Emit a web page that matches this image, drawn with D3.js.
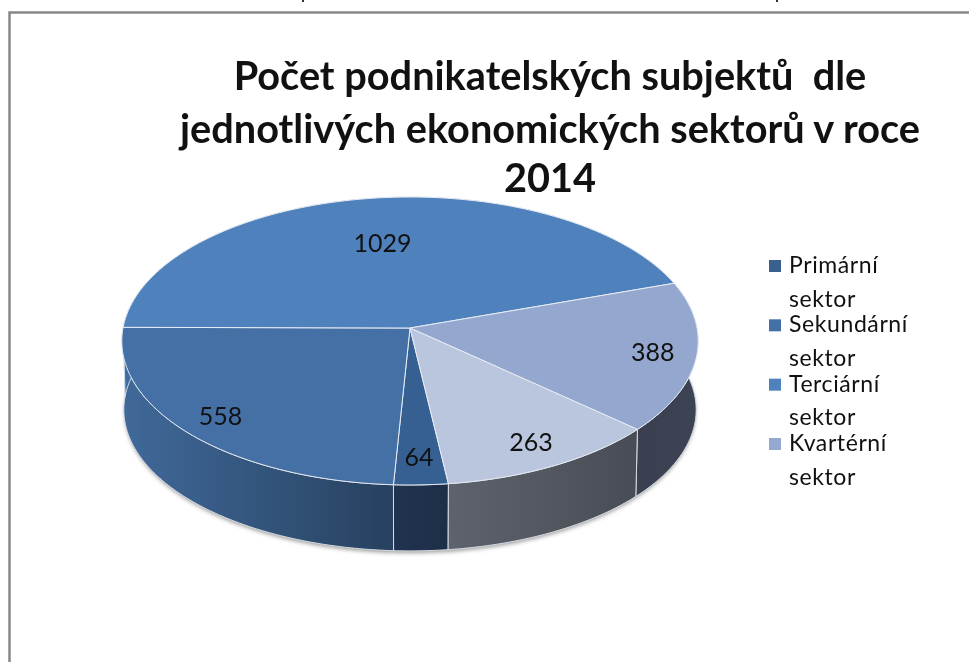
<!DOCTYPE html>
<html>
<head>
<meta charset="utf-8">
<script src="https://cdn.jsdelivr.net/npm/d3@7"></script>
<style>
  html, body { margin: 0; padding: 0; background: #fff; overflow: hidden; }
  text { font-family: Lato, "Open Sans", sans-serif; fill: #111; white-space: pre; }
</style>
</head>
<body>
<div id="my_dataviz"></div>
<script>
// data
var values = [64, 558, 1029, 388, 263];
var legendLabels = [
  ["Primární", "sektor"],
  ["Sekundární", "sektor"],
  ["Terciární", "sektor"],
  ["Kvartérní", "sektor"]
];
var titleLines = [
  "Počet podnikatelských subjektů  dle",
  "jednotlivých ekonomických sektorů v roce",
  "2014"
];

// colours
var topColors = ["#376092", "#4470a6", "#4f81bd", "#93a7cf", "#b9c6dd"];
var legendColors = ["#3a6090", "#4370a5", "#4f81bd", "#95a9d0"];
var sideFrom = ["#203350", "#40699a", "#3d6ea8", "#3a4050", "#5e626c"];
var sideTo = ["#1d2e47", "#27415f", "#3d6ea8", "#3c4354", "#484d55"];

var width = 969, height = 662;

var svg = d3.select("#my_dataviz")
  .append("svg")
    .attr("width", width)
    .attr("height", height)
    .style("display", "block")
    .style("filter", "blur(0.4px)");

var defs = svg.append("defs");
defs.append("filter").attr("id", "shadow")
  .attr("x", "-10%").attr("y", "-10%").attr("width", "120%").attr("height", "120%")
  .append("feGaussianBlur").attr("stdDeviation", 2);

// outer frame, only top and left are inside the page
svg.append("path")
  .attr("d", "M9.5,662V12.5H969")
  .attr("fill", "none")
  .attr("stroke", "#888")
  .attr("stroke-width", 2.5);

// specks of the cropped line above the frame
[303, 777].forEach(function(x) {
  svg.append("rect").attr("x", x - 1).attr("y", 0).attr("width", 2).attr("height", 2).attr("fill", "#333");
});

// title
svg.selectAll(".title")
  .data(titleLines)
  .enter()
  .append("text")
    .attr("class", "title")
    .attr("x", 550)
    .attr("y", function(d, i) { return [90, 143, 192][i]; })
    .attr("text-anchor", "middle")
    .style("font-size", "39.7px")
    .style("font-weight", 700)
    .text(function(d) { return d; });

// tilted disc: the near half is drawn bigger than the far half
var persp = -0.0903;
function project(angle, ring, r) {
  var u = Math.sin(angle) * r, v = -Math.cos(angle) * r;
  var d = 1 + persp * v;
  return [ring.cx + ring.rx * u / d, ring.cy + ring.ry * v / d];
}
var topRing = {cx: 410, cy: 328, rx: 287, ry: 142.8};
var baseRing = {cx: 410, cy: 397, rx: 285, ry: 140};

var arcs = d3.pie().sort(null)
  .startAngle(173 * Math.PI / 180)
  .endAngle((173 + 360) * Math.PI / 180)(values);

function rim(d, ring) {
  var n = Math.max(2, Math.ceil((d.endAngle - d.startAngle) / 0.01));
  return d3.range(n + 1).map(function(i) {
    return project(d.startAngle + (d.endAngle - d.startAngle) * i / n, ring, 1);
  });
}
var line = d3.line();

// soft shadow below the base
svg.append("path")
  .attr("d", line(d3.range(0, 6.3, 0.02).map(function(a) { return project(a, {cx: 410, cy: 399, rx: 284, ry: 140}, 1); })) + "Z")
  .attr("fill", "#999")
  .attr("filter", "url(#shadow)");

// side walls
arcs.forEach(function(d, i) {
  var t = rim(d, topRing), b = rim(d, baseRing);
  var xs = t.concat(b).map(function(p) { return p[0]; });
  var visible = t.concat(b).filter(function(p) { return p[1] > 340; }).map(function(p) { return p[0]; });
  var ext = d3.extent(visible.length ? visible : xs);
  var g = defs.append("linearGradient")
    .attr("id", "side" + i)
    .attr("gradientUnits", "userSpaceOnUse")
    .attr("x1", ext[0]).attr("x2", ext[1]).attr("y1", 0).attr("y2", 0);
  g.append("stop").attr("offset", 0).attr("stop-color", sideFrom[i]);
  g.append("stop").attr("offset", 1).attr("stop-color", sideTo[i]);
  svg.append("path")
    .attr("d", line(t.concat(b.reverse())) + "Z")
    .attr("fill", "url(#side" + i + ")")
    .attr("stroke", "#d8dde4")
    .attr("stroke-width", 1);
});

// top faces
arcs.forEach(function(d, i) {
  svg.append("path")
    .attr("d", line([[topRing.cx, topRing.cy]].concat(rim(d, topRing))) + "Z")
    .attr("fill", topColors[i])
    .attr("stroke", "#e8edf4")
    .attr("stroke-width", 1);
});

// value labels
arcs.forEach(function(d, i) {
  var mid = (d.startAngle + d.endAngle) / 2;
  var p = project(mid, topRing, [0.84, 0.86, 0.63, 0.85, 0.85][i]);
  svg.append("text")
    .attr("x", p[0])
    .attr("y", p[1] + 8)
    .attr("text-anchor", "middle")
    .style("font-size", "25px")
    .text(d.data);
});

// legend
var legendY = d3.scaleLinear().domain([0, 3]).range([273, 451]);
legendLabels.forEach(function(lab, i) {
  var y = legendY(i);
  svg.append("rect")
    .attr("x", 769).attr("y", y - 13)
    .attr("width", 12).attr("height", 12)
    .attr("fill", legendColors[i]);
  lab.forEach(function(txt, j) {
    svg.append("text")
      .attr("x", 789)
      .attr("y", y + j * 33.5)
      .style("font-size", "23px")
      .style("letter-spacing", "0.6px")
      .text(txt);
  });
});
</script>
</body>
</html>
